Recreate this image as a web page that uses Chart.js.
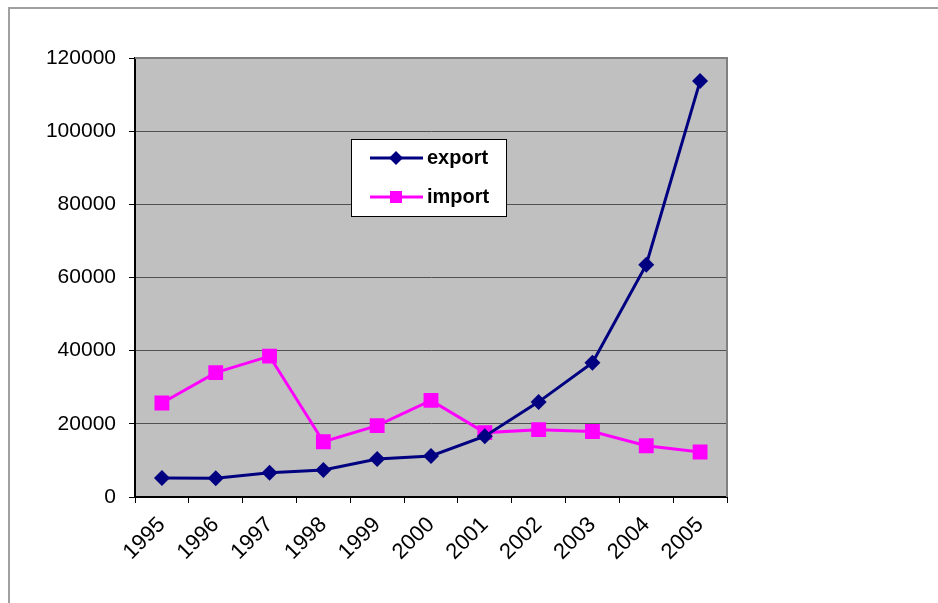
<!DOCTYPE html>
<html>
<head>
<meta charset="utf-8">
<script src="https://cdn.jsdelivr.net/npm/chart.js@4.4.1/dist/chart.umd.min.js"></script>
<style>
  html, body { margin: 0; padding: 0; background: #fff; }
  #wrap { width: 938px; height: 603px; position: relative; }
</style>
</head>
<body>
<div id="wrap"><canvas id="chart" width="938" height="603"></canvas></div>
<script>
// chart data
const years = ['1995', '1996', '1997', '1998', '1999', '2000', '2001', '2002', '2003', '2004', '2005'];
const exportValues = [5200, 5100, 6600, 7400, 10400, 11200, 16600, 26000, 36700, 63500, 113700];
const importValues = [25700, 34000, 38500, 15100, 19500, 26400, 17600, 18400, 17900, 14000, 12300];
const yTicks = [0, 20000, 40000, 60000, 80000, 100000, 120000];

const EXPORT_COLOR = '#000080';
const IMPORT_COLOR = '#FF00FF';
const FONT = 'Arial, "Liberation Sans", sans-serif';

// gray plot background, plot border, outer frame, legend box
const frame = {
  id: 'frame',
  beforeDraw(chart) {
    const { ctx, chartArea: a } = chart;
    ctx.save();
    ctx.fillStyle = '#C0C0C0';
    ctx.fillRect(a.left, a.top, a.right - a.left, a.bottom - a.top);
    // outer frame lines
    ctx.strokeStyle = '#A0A0A0';
    ctx.lineWidth = 2;
    ctx.beginPath();
    ctx.moveTo(9, 603);
    ctx.lineTo(9, 8);
    ctx.lineTo(938, 8);
    ctx.stroke();
    ctx.restore();
  },
  afterDraw(chart) {
    const { ctx, chartArea: a } = chart;
    ctx.save();
    ctx.strokeStyle = '#808080';
    ctx.lineWidth = 2;
    ctx.beginPath();
    ctx.moveTo(a.left, a.top);
    ctx.lineTo(a.right, a.top);
    ctx.lineTo(a.right, a.bottom);
    ctx.stroke();

    // legend box
    const bx = 351, by = 139, bw = 155, bh = 77;
    ctx.fillStyle = '#fff';
    ctx.fillRect(bx, by, bw, bh);
    ctx.strokeStyle = '#000';
    ctx.lineWidth = 1;
    ctx.strokeRect(bx + 0.5, by + 0.5, bw, bh);

    const items = [
      { label: 'export', color: EXPORT_COLOR, y: 158, marker: 'diamond' },
      { label: 'import', color: IMPORT_COLOR, y: 197, marker: 'square' }
    ];
    items.forEach(it => {
      ctx.strokeStyle = it.color;
      ctx.lineWidth = 3;
      ctx.beginPath();
      ctx.moveTo(370, it.y);
      ctx.lineTo(423, it.y);
      ctx.stroke();
      ctx.fillStyle = it.color;
      if (it.marker === 'diamond') {
        ctx.beginPath();
        ctx.moveTo(396, it.y - 7);
        ctx.lineTo(403, it.y);
        ctx.lineTo(396, it.y + 7);
        ctx.lineTo(389, it.y);
        ctx.closePath();
        ctx.fill();
      } else {
        ctx.fillRect(390, it.y - 6, 12, 12);
      }
      ctx.fillStyle = '#000';
      ctx.font = 'bold 20px ' + FONT;
      ctx.textBaseline = 'middle';
      ctx.textAlign = 'left';
      ctx.fillText(it.label, 427, it.y);
    });
    ctx.restore();
  }
};

new Chart(document.getElementById('chart'), {
  type: 'line',
  data: {
    labels: years,
    datasets: [
      {
        label: 'export',
        data: exportValues,
        borderColor: EXPORT_COLOR,
        backgroundColor: EXPORT_COLOR,
        borderWidth: 3,
        pointStyle: 'rectRot',
        pointRadius: 8,
        pointBorderWidth: 0,
        tension: 0
      },
      {
        label: 'import',
        data: importValues,
        borderColor: IMPORT_COLOR,
        backgroundColor: IMPORT_COLOR,
        borderWidth: 3,
        pointStyle: 'rect',
        pointRadius: 10.5,
        pointBorderWidth: 0,
        tension: 0
      }
    ]
  },
  options: {
    responsive: false,
    animation: false,
    layout: { padding: { top: 58, right: 211, left: 0, bottom: 0 } },
    plugins: {
      legend: { display: false },
      tooltip: { enabled: false }
    },
    scales: {
      x: {
        offset: true,
        grid: {
          offset: true,
          drawOnChartArea: false,
          drawTicks: true,
          tickLength: 6,
          tickColor: '#000'
        },
        border: { color: '#000', width: 2 },
        ticks: {
          color: '#000',
          font: { family: FONT, size: 22 },
          minRotation: 45,
          maxRotation: 45,
          padding: 9,
          autoSkip: false
        },
        afterFit(scale) { scale.height = 106; }
      },
      y: {
        min: 0,
        max: 120000,
        afterBuildTicks(scale) { scale.ticks = yTicks.map(v => ({ value: v })); },
        grid: {
          color: '#505050',
          lineWidth: 1,
          tickLength: 6,
          tickColor: '#000'
        },
        border: { color: '#000', width: 2 },
        ticks: {
          color: '#000',
          font: { family: FONT, size: 21 },
          padding: 13,
          callback: v => String(v)
        },
        afterFit(scale) { scale.width = 135; }
      }
    }
  },
  plugins: [frame]
});
</script>
</body>
</html>
